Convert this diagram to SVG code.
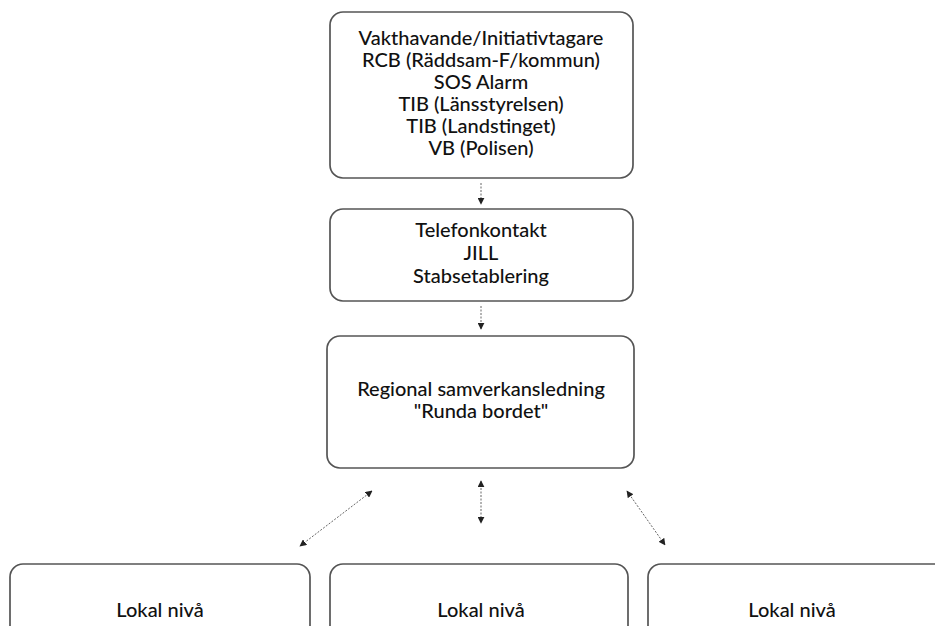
<svg xmlns="http://www.w3.org/2000/svg" width="935" height="626" viewBox="0 0 935 626">
<style>
.box{fill:#fff;stroke:#555;stroke-width:1.7}
.t{font-family:Lato,"Open Sans",sans-serif;font-size:20px;fill:#111;text-anchor:middle;font-weight:500}
.c{stroke:#666;stroke-width:1;stroke-dasharray:2 1.5;fill:none}
</style>
<defs>
<marker id="ah" viewBox="0 0 10 10" refX="9" refY="5" markerWidth="7" markerHeight="7" orient="auto-start-reverse" markerUnits="userSpaceOnUse">
<path d="M0,0 L10,5 L0,10 z" fill="#222"/>
</marker>
</defs>
<rect width="935" height="626" fill="#fff"/>
<g id="n1">
<rect class="box" x="330" y="12" width="303" height="166" rx="13"/>
<text class="t" x="481" y="45">Vakthavande/Initiativtagare</text>
<text class="t" x="481" y="67">RCB (Räddsam-F/kommun)</text>
<text class="t" x="481" y="89">SOS Alarm</text>
<text class="t" x="481" y="111">TIB (Länsstyrelsen)</text>
<text class="t" x="481" y="133">TIB (Landstinget)</text>
<text class="t" x="481" y="155">VB (Polisen)</text>
</g>
<g id="n2">
<rect class="box" x="330" y="209" width="303" height="92" rx="13"/>
<text class="t" x="481" y="237">Telefonkontakt</text>
<text class="t" x="481" y="260">JILL</text>
<text class="t" x="481" y="283">Stabsetablering</text>
</g>
<g id="n3">
<rect class="box" x="327" y="336" width="307" height="132" rx="13"/>
<text class="t" x="481" y="396">Regional samverkansledning</text>
<text class="t" x="481" y="418">"Runda bordet"</text>
</g>
<g id="n4">
<rect class="box" x="10" y="564" width="300" height="80" rx="13"/>
<text class="t" x="160" y="617">Lokal nivå</text>
</g>
<g id="n5">
<rect class="box" x="330" y="564" width="298" height="80" rx="13"/>
<text class="t" x="481" y="617">Lokal nivå</text>
</g>
<g id="n6">
<rect class="box" x="648" y="564" width="300" height="80" rx="13"/>
<text class="t" x="792" y="617">Lokal nivå</text>
</g>
<g id="connectors">
<line class="c" x1="481" y1="183" x2="481" y2="204" marker-end="url(#ah)"/>
<line class="c" x1="481" y1="306" x2="481" y2="329" marker-end="url(#ah)"/>
<line class="c" x1="481" y1="481" x2="481" y2="523" marker-start="url(#ah)" marker-end="url(#ah)"/>
<line class="c" x1="372" y1="491" x2="300" y2="546" marker-start="url(#ah)" marker-end="url(#ah)"/>
<line class="c" x1="627" y1="491" x2="665" y2="545" marker-start="url(#ah)" marker-end="url(#ah)"/>
</g>
</svg>
